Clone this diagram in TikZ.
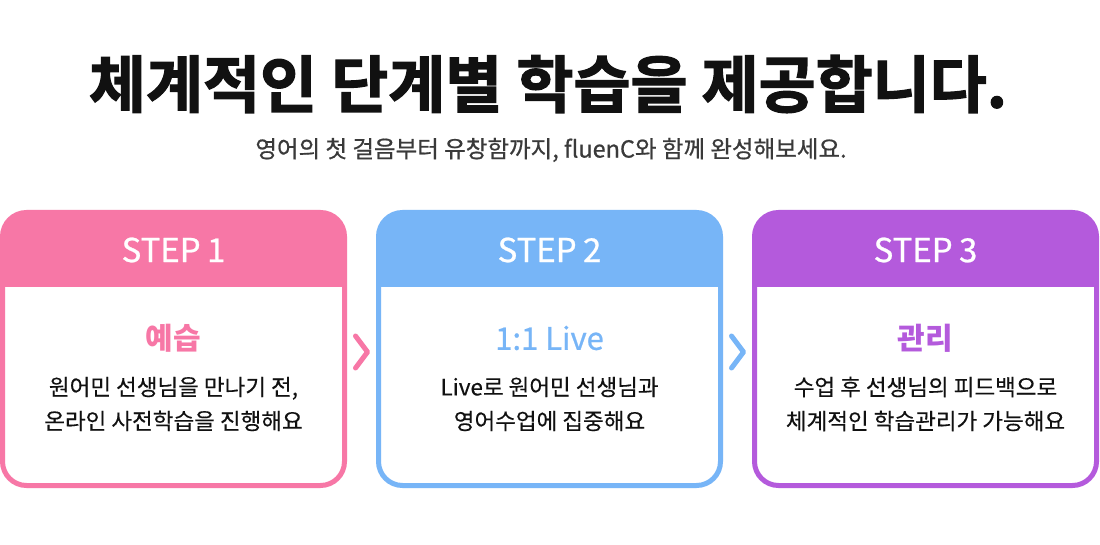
\documentclass[tikz,border=0pt]{standalone}
\usepackage{fontspec}
\setmainfont{Noto Sans CJK KR}
\newfontfamily\titlefont[FakeBold=2]{Noto Sans CJK KR Bold}
\newfontfamily\medfont[FakeBold=0.7]{Noto Sans CJK KR}
\newfontfamily\lightbold[FakeBold=0.3]{Noto Sans CJK KR}
\usetikzlibrary{calc}
\definecolor{pinkc}{HTML}{F777A6}
\definecolor{bluec}{HTML}{77B5F7}
\definecolor{purplec}{HTML}{B45ADC}
\definecolor{inkc}{HTML}{111111}
\definecolor{subc}{HTML}{3A3A3A}
\tikzset{
  cardbox/.style={draw=#1, fill=white, line width=5pt, rounded corners=24pt,
    minimum width=342pt, minimum height=273pt, outer sep=0pt, inner sep=0pt},
  steplabel/.style={text=white, font=\medfont\fontsize{33}{36}\selectfont, inner sep=0pt},
  headlabel/.style={text=#1, font=\fontsize{30}{36}\selectfont\bfseries, inner sep=0pt},
  bodytext/.style={text=inkc, font=\lightbold\fontsize{22.5}{34}\selectfont, align=center, inner sep=0pt},
  chevron/.style={draw=#1, line width=5pt, line cap=round, line join=round},
}
\newcommand{\headerband}[2]{%
  \begin{scope}
    \clip[rounded corners=24pt] (#1.south west) rectangle (#1.north east);
    \fill[#2] (#1.north west) rectangle ([yshift=-75pt]#1.north east);
  \end{scope}}
\begin{document}
\begin{tikzpicture}[x=1pt,y=-1pt]
\useasboundingbox[fill=white] (0,0) rectangle (1100,545);
% title
\node[text=inkc, font=\titlefont\fontsize{62}{70}\selectfont, inner sep=0pt] (title) at (548,84) {체계적인 단계별 학습을 제공합니다.};
\node[text=subc, font=\medfont\fontsize{23.5}{26}\selectfont, inner sep=0pt] (subtitle) at (551,150) {영어의 첫 걸음부터 유창함까지, fluenC와 함께 완성해보세요.};
% cards
\node[cardbox=pinkc] (card1) at (173.5,349) {};
\headerband{card1}{pinkc}
\node[cardbox=bluec] (card2) at (549.5,349) {};
\headerband{card2}{bluec}
\node[cardbox=purplec] (card3) at (925.5,349) {};
\headerband{card3}{purplec}
% step labels
\node[steplabel] (s1) at (173.5,250) {STEP\hspace{-1pt} 1};
\node[steplabel] (s2) at (549.5,250) {STEP\hspace{-1pt} 2};
\node[steplabel] (s3) at (925.5,250) {STEP\hspace{-1pt} 3};
% headings
\node[headlabel=pinkc] (h1) at (173.5,338) {예습};
\node[headlabel=bluec, font=\medfont\fontsize{31}{36}\selectfont] (h2) at (549.5,338) {1:1 Live};
\node[headlabel=purplec] (h3) at (925.5,338) {관리};
% bodies
\node[bodytext] (b1) at (173.5,404) {원어민 선생님을 만나기 전,\\온라인 사전학습을 진행해요};
\node[bodytext] (b2) at (549.5,404) {Live로 원어민 선생님과\\영어수업에 집중해요};
\node[bodytext] (b3) at (925.5,404) {수업 후 선생님의 피드백으로\\체계적인 학습관리가 가능해요};
% chevrons
\coordinate (m1) at ($(card1.east)!0.5!(card2.west)$);
\coordinate (m2) at ($(card2.east)!0.5!(card3.west)$);
\draw[chevron=pinkc] ([shift={(-6,-13)}]m1) -- ([shift={(6,3)}]m1) -- ([shift={(-6,19)}]m1);
\draw[chevron=bluec] ([shift={(-6,-13)}]m2) -- ([shift={(6,3)}]m2) -- ([shift={(-6,19)}]m2);
\end{tikzpicture}
\end{document}
